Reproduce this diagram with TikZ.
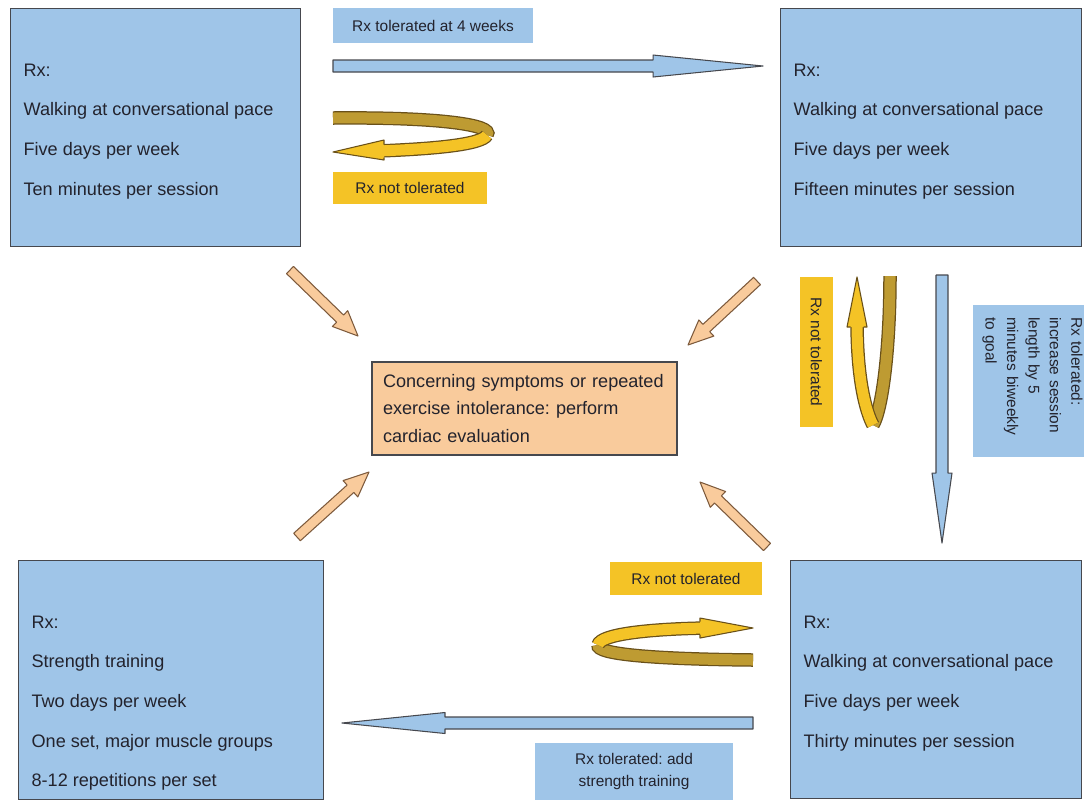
\documentclass[tikz,border=0pt]{standalone}
\usepackage{fontspec}
\setmainfont{Liberation Sans}
\usetikzlibrary{calc}
\frenchspacing
\definecolor{rxblue}{RGB}{159,197,232}
\definecolor{boxline}{RGB}{70,72,78}
\definecolor{evalorange}{RGB}{249,203,156}
\definecolor{notyellow}{RGB}{244,195,38}
\definecolor{ubrown}{RGB}{190,155,50}
\definecolor{uline}{RGB}{105,80,25}
\definecolor{orangeline}{RGB}{125,90,60}
\definecolor{textgray}{RGB}{35,35,45}
\newcommand{\blockarrow}[6]{%
	\path ($(#2)!#5!(#1)$) coordinate (bah);
	\draw[#6] ($(#1)!#3!90:(#2)$) -- ($(bah)!#3!90:(#2)$) -- ($(bah)!#4!90:(#2)$) -- (#2)
		-- ($(bah)!#4!-90:(#2)$) -- ($(bah)!#3!-90:(#2)$) -- ($(#1)!#3!-90:(#2)$) -- cycle;}
\newcommand{\rxlines}[3]{\parbox[c][#2][t]{#1}{\vspace*{11mm}\raggedright\leftskip=2.6mm #3}}
\tikzset{
	rxbox/.style={draw=boxline, fill=rxblue, line width=0.7pt, inner sep=0pt, anchor=north west, text=textgray, font=\fontsize{10.3}{22.6}\selectfont},
	evalbox/.style={draw=boxline, fill=evalorange, line width=0.7pt, text width=56.6mm, inner xsep=2.2mm, minimum height=18.6mm, align=left, text=textgray, font=\fontsize{10.3}{15.4}\selectfont},
	oklabel/.style={fill=rxblue, text=textgray, font=\fontsize{8.8}{12.2}\selectfont, inner sep=0pt},
	nolabel/.style={fill=notyellow, text=textgray, font=\fontsize{8.8}{12.2}\selectfont, inner sep=0pt},
	bluearrow/.style={draw=boxline, fill=rxblue, line width=0.6pt, line join=round},
	orangearrow/.style={draw=orangeline, fill=evalorange, line width=0.6pt, line join=round},
	twistback/.style={preaction={draw=uline, line width=2.7mm}, draw=ubrown, line width=2.2mm},
	twistfront/.style={preaction={draw=uline, line width=2.7mm}, draw=notyellow, line width=2.2mm},
	twisthead/.style={draw=uline, fill=notyellow, line width=0.6pt, line join=round}
}
\begin{document}
\begin{tikzpicture}[x=0.02cm, y=-0.02cm]
	\useasboundingbox (0,0) rectangle (1084,799);
	\path(10,8)    node[rxbox](wk1) {\rxlines{58mm}{47.6mm}{Rx:\\Walking at conversational pace\\Five days per week\\Ten minutes per session}};
	\path(780,8)   node[rxbox](wk2) {\rxlines{60.2mm}{47.6mm}{Rx:\\Walking at conversational pace\\Five days per week\\Fifteen minutes per session}};
	\path(790,560) node[rxbox](wk3) {\rxlines{58.2mm}{47.6mm}{Rx:\\Walking at conversational pace\\Five days per week\\Thirty minutes per session}};
	\path(18,560)  node[rxbox](str) {\rxlines{61mm}{47.8mm}{Rx:\\Strength training\\Two days per week\\One set, major muscle groups\\8-12 repetitions per set}};
	\path(524.5,408.5) node[evalbox](eval) {Concerning symptoms or repeated\\exercise intolerance: perform\\cardiac evaluation};
	\path(433,25.5)  node[oklabel, minimum width=40mm, minimum height=7mm](ok1) {Rx tolerated at 4 weeks};
	\path(410,188)   node[nolabel, minimum width=30.8mm, minimum height=6.4mm](no1) {Rx not tolerated};
	\path(816.5,352) node[nolabel, rotate=-90, minimum width=30mm, minimum height=6.6mm](no2) {Rx not tolerated};
	\path(1032.5,381) node[oklabel, rotate=-90, text width=25.6mm, inner xsep=2.4mm, minimum height=23.8mm, align=left](ok2) {Rx tolerated:\\increase session\\length by 5\\minutes biweekly\\to goal};
	\path(686,578.5) node[nolabel, minimum width=30.4mm, minimum height=6.6mm](no3) {Rx not tolerated};
	\path(634,771.5) node[oklabel, minimum width=39.6mm, minimum height=11.4mm, align=center](ok3) {Rx tolerated: add\\strength training};
	\coordinate (go1a) at (333,66);  \coordinate (go1b) at (763,66);
	\coordinate (go2a) at (942,275); \coordinate (go2b) at (942,543);
	\coordinate (go3a) at (753,723); \coordinate (go3b) at (342,723);
	\blockarrow{go1a}{go1b}{1.2mm}{2.2mm}{22mm}{bluearrow}
	\blockarrow{go2a}{go2b}{1.2mm}{2mm}{14mm}{bluearrow}
	\blockarrow{go3a}{go3b}{1.2mm}{2.1mm}{20.6mm}{bluearrow}
	\coordinate (ev1a) at (290,270); \coordinate (ev1b) at (358,336);
	\coordinate (ev2a) at (757,281); \coordinate (ev2b) at (688,345);
	\coordinate (ev3a) at (297,537); \coordinate (ev3b) at (369,472);
	\coordinate (ev4a) at (767,547); \coordinate (ev4b) at (700,482);
	\blockarrow{ev1a}{ev1b}{1mm}{2.2mm}{5mm}{orangearrow}
	\blockarrow{ev2a}{ev2b}{1mm}{2.2mm}{5mm}{orangearrow}
	\blockarrow{ev3a}{ev3b}{1mm}{2.2mm}{5mm}{orangearrow}
	\blockarrow{ev4a}{ev4b}{1mm}{2.2mm}{5mm}{orangearrow}
	\coordinate (tw1a) at (333,118); \coordinate (tw1m) at (487,135); \coordinate (tw1b) at (333,152);
	\draw[twistback] (tw1a) .. controls (440,117) and (494,125) .. (tw1m);
	\draw[twistfront] (tw1m) .. controls (482,145) and (430,149) .. (378,151);
	\filldraw[twisthead] (384,144.5) -- (384,140) -- (tw1b) -- (384,160) -- (384,157.5);
	\coordinate (tw2a) at (890,276); \coordinate (tw2m) at (873,425); \coordinate (tw2b) at (857,277);
	\draw[twistback] (tw2a) .. controls (890,350) and (882,410) .. (tw2m);
	\draw[twistfront] (tw2m) .. controls (866,412) and (857,380) .. (857,321);
	\filldraw[twisthead] (850.5,327) -- (847,327) -- (tw2b) -- (867,327) -- (863.5,327);
	\coordinate (tw3a) at (753,660); \coordinate (tw3m) at (598,645); \coordinate (tw3b) at (753,628);
	\draw[twistback] (tw3a) .. controls (650,659) and (596,654) .. (tw3m);
	\draw[twistfront] (tw3m) .. controls (600,634) and (650,629) .. (706,628);
	\filldraw[twisthead] (700,621.5) -- (700,618) -- (tw3b) -- (700,638) -- (700,634.5);
\end{tikzpicture}
\end{document}
